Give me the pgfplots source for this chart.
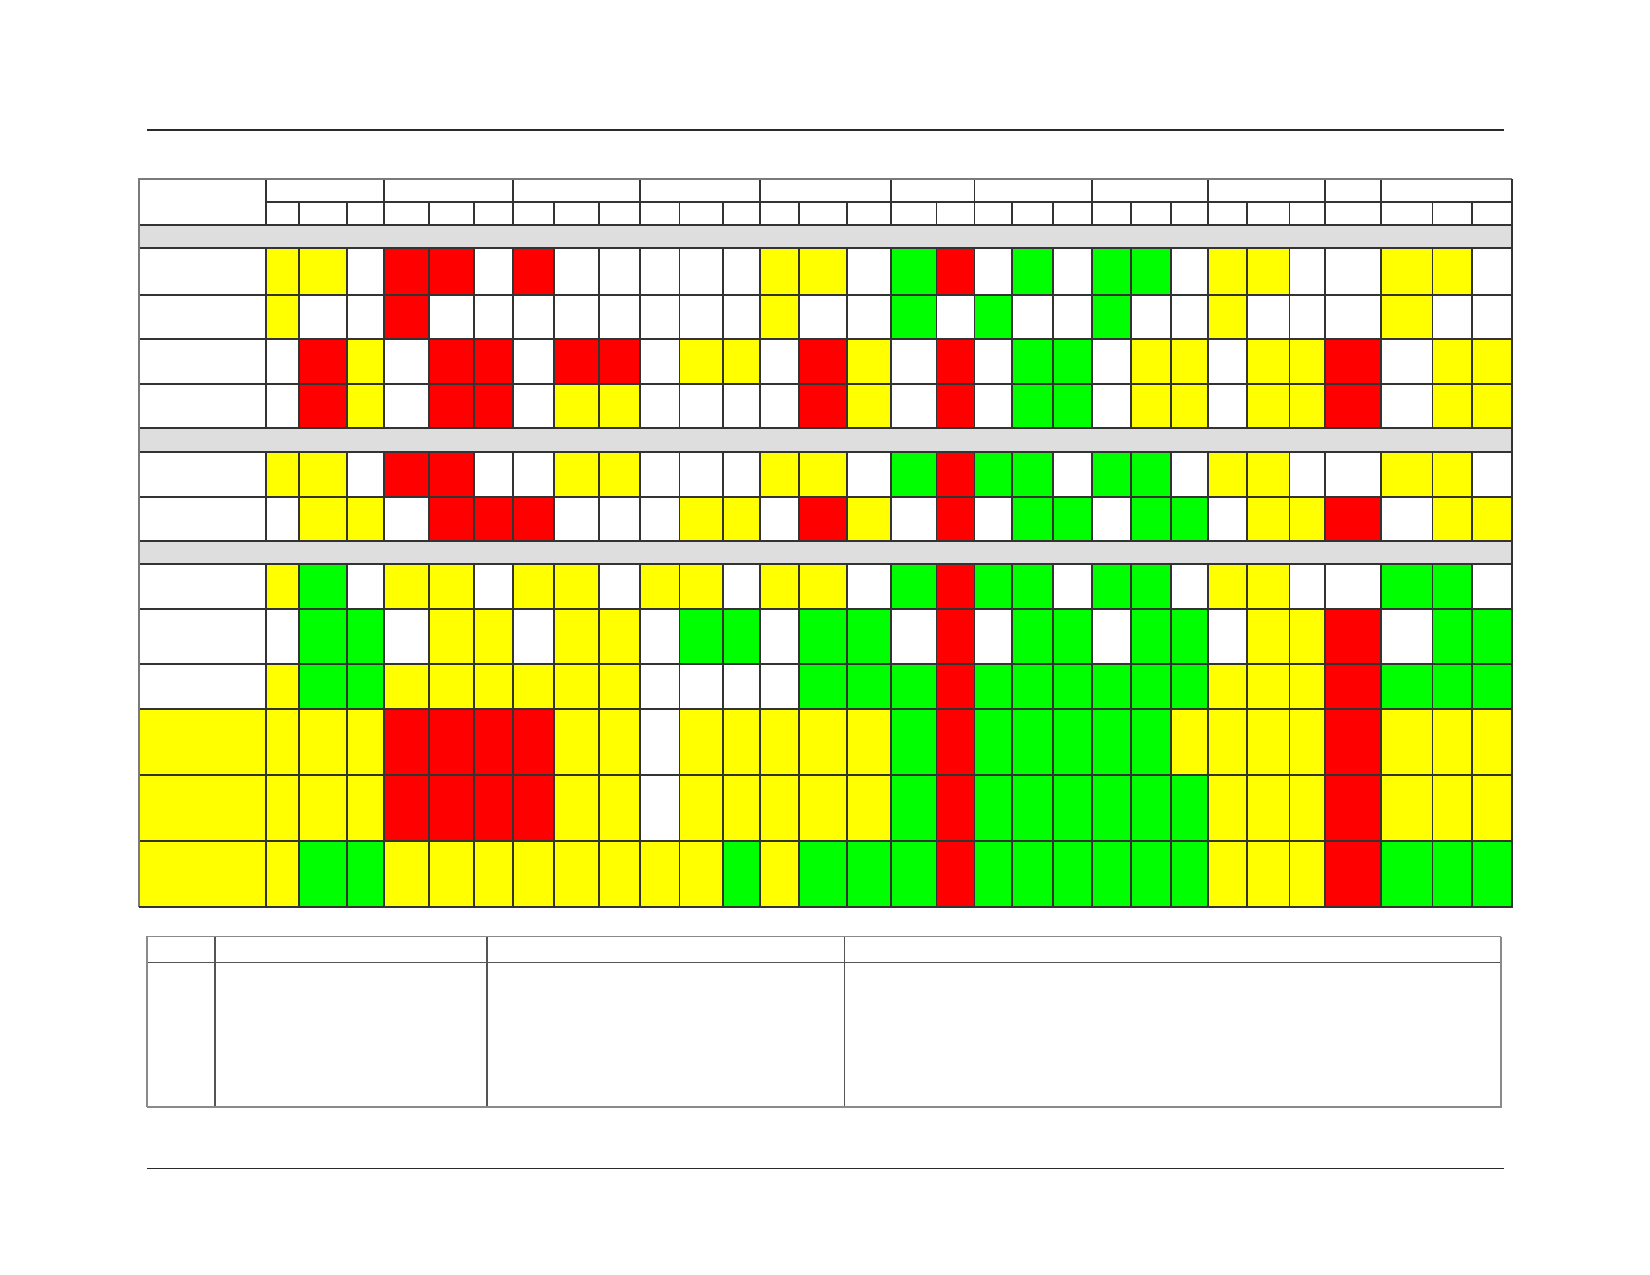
\documentclass[border=0pt]{standalone}
\usepackage{pgfplots}
\pgfplotsset{compat=1.18}
\definecolor{gridc}{HTML}{333333}
\definecolor{outerc}{HTML}{7A7A7A}
\definecolor{lowc}{HTML}{555555}
\definecolor{lowedge}{HTML}{8A8A8A}
\definecolor{rulec}{HTML}{2A2A2A}
\definecolor{bandc}{RGB}{222,222,222}
\begin{document}
\begin{tikzpicture}
\begin{axis}[scale only axis, width=825pt, height=637.5pt,
  xmin=0, xmax=1650, ymin=0, ymax=1275, y dir=reverse, hide axis,
  colormap={cells}{rgb255=(255,255,255) rgb255=(255,255,0) rgb255=(255,0,0) rgb255=(0,255,0) rgb255=(222,222,222)},
  colormap access=direct, unbounded coords=jump]

% page background
\addplot[fill=white, draw=none, mark=none] coordinates {(0,0) (1650,0) (1650,1275) (0,1275)};

% cell colours: 0 white, 1 yellow, 2 red, 3 green, 4 grey (value at top-left corner of each cell)
\addplot[surf, shader=flat corner, mesh/cols=32, mesh/rows=18, point meta=explicit] coordinates {
(139.3,179)[0] (266,179)[0] (299.3,179)[0] (346.7,179)[0] (384,179)[0] (429,179)[0] (473.7,179)[0] (513,179)[0] (554.3,179)[0] (599.3,179)[0] (640,179)[0] (679.5,179)[0] (722.7,179)[0] (760.3,179)[0] (799.2,179)[0] (847,179)[0] (891.2,179)[0] (936.5,179)[0] (974.5,179)[0] (1012.2,179)[0] (1053,179)[0] (1091.7,179)[0] (1131,179)[0] (1170.7,179)[0] (1208.2,179)[0] (1246.7,179)[0] (1289.5,179)[0] (1325.2,179)[0] (1380.7,179)[0] (1432.5,179)[0] (1472,179)[0] (1511.7,179)[0]
(139.3,201.7)[0] (266,201.7)[0] (299.3,201.7)[0] (346.7,201.7)[0] (384,201.7)[0] (429,201.7)[0] (473.7,201.7)[0] (513,201.7)[0] (554.3,201.7)[0] (599.3,201.7)[0] (640,201.7)[0] (679.5,201.7)[0] (722.7,201.7)[0] (760.3,201.7)[0] (799.2,201.7)[0] (847,201.7)[0] (891.2,201.7)[0] (936.5,201.7)[0] (974.5,201.7)[0] (1012.2,201.7)[0] (1053,201.7)[0] (1091.7,201.7)[0] (1131,201.7)[0] (1170.7,201.7)[0] (1208.2,201.7)[0] (1246.7,201.7)[0] (1289.5,201.7)[0] (1325.2,201.7)[0] (1380.7,201.7)[0] (1432.5,201.7)[0] (1472,201.7)[0] (1511.7,201.7)[0]
(139.3,224.7)[4] (266,224.7)[4] (299.3,224.7)[4] (346.7,224.7)[4] (384,224.7)[4] (429,224.7)[4] (473.7,224.7)[4] (513,224.7)[4] (554.3,224.7)[4] (599.3,224.7)[4] (640,224.7)[4] (679.5,224.7)[4] (722.7,224.7)[4] (760.3,224.7)[4] (799.2,224.7)[4] (847,224.7)[4] (891.2,224.7)[4] (936.5,224.7)[4] (974.5,224.7)[4] (1012.2,224.7)[4] (1053,224.7)[4] (1091.7,224.7)[4] (1131,224.7)[4] (1170.7,224.7)[4] (1208.2,224.7)[4] (1246.7,224.7)[4] (1289.5,224.7)[4] (1325.2,224.7)[4] (1380.7,224.7)[4] (1432.5,224.7)[4] (1472,224.7)[4] (1511.7,224.7)[0]
(139.3,248)[0] (266,248)[1] (299.3,248)[1] (346.7,248)[0] (384,248)[2] (429,248)[2] (473.7,248)[0] (513,248)[2] (554.3,248)[0] (599.3,248)[0] (640,248)[0] (679.5,248)[0] (722.7,248)[0] (760.3,248)[1] (799.2,248)[1] (847,248)[0] (891.2,248)[3] (936.5,248)[2] (974.5,248)[0] (1012.2,248)[3] (1053,248)[0] (1091.7,248)[3] (1131,248)[3] (1170.7,248)[0] (1208.2,248)[1] (1246.7,248)[1] (1289.5,248)[0] (1325.2,248)[0] (1380.7,248)[1] (1432.5,248)[1] (1472,248)[0] (1511.7,248)[0]
(139.3,294.7)[0] (266,294.7)[1] (299.3,294.7)[0] (346.7,294.7)[0] (384,294.7)[2] (429,294.7)[0] (473.7,294.7)[0] (513,294.7)[0] (554.3,294.7)[0] (599.3,294.7)[0] (640,294.7)[0] (679.5,294.7)[0] (722.7,294.7)[0] (760.3,294.7)[1] (799.2,294.7)[0] (847,294.7)[0] (891.2,294.7)[3] (936.5,294.7)[0] (974.5,294.7)[3] (1012.2,294.7)[0] (1053,294.7)[0] (1091.7,294.7)[3] (1131,294.7)[0] (1170.7,294.7)[0] (1208.2,294.7)[1] (1246.7,294.7)[0] (1289.5,294.7)[0] (1325.2,294.7)[0] (1380.7,294.7)[1] (1432.5,294.7)[0] (1472,294.7)[0] (1511.7,294.7)[0]
(139.3,339.3)[0] (266,339.3)[0] (299.3,339.3)[2] (346.7,339.3)[1] (384,339.3)[0] (429,339.3)[2] (473.7,339.3)[2] (513,339.3)[0] (554.3,339.3)[2] (599.3,339.3)[2] (640,339.3)[0] (679.5,339.3)[1] (722.7,339.3)[1] (760.3,339.3)[0] (799.2,339.3)[2] (847,339.3)[1] (891.2,339.3)[0] (936.5,339.3)[2] (974.5,339.3)[0] (1012.2,339.3)[3] (1053,339.3)[3] (1091.7,339.3)[0] (1131,339.3)[1] (1170.7,339.3)[1] (1208.2,339.3)[0] (1246.7,339.3)[1] (1289.5,339.3)[1] (1325.2,339.3)[2] (1380.7,339.3)[0] (1432.5,339.3)[1] (1472,339.3)[1] (1511.7,339.3)[0]
(139.3,384)[0] (266,384)[0] (299.3,384)[2] (346.7,384)[1] (384,384)[0] (429,384)[2] (473.7,384)[2] (513,384)[0] (554.3,384)[1] (599.3,384)[1] (640,384)[0] (679.5,384)[0] (722.7,384)[0] (760.3,384)[0] (799.2,384)[2] (847,384)[1] (891.2,384)[0] (936.5,384)[2] (974.5,384)[0] (1012.2,384)[3] (1053,384)[3] (1091.7,384)[0] (1131,384)[1] (1170.7,384)[1] (1208.2,384)[0] (1246.7,384)[1] (1289.5,384)[1] (1325.2,384)[2] (1380.7,384)[0] (1432.5,384)[1] (1472,384)[1] (1511.7,384)[0]
(139.3,428)[4] (266,428)[4] (299.3,428)[4] (346.7,428)[4] (384,428)[4] (429,428)[4] (473.7,428)[4] (513,428)[4] (554.3,428)[4] (599.3,428)[4] (640,428)[4] (679.5,428)[4] (722.7,428)[4] (760.3,428)[4] (799.2,428)[4] (847,428)[4] (891.2,428)[4] (936.5,428)[4] (974.5,428)[4] (1012.2,428)[4] (1053,428)[4] (1091.7,428)[4] (1131,428)[4] (1170.7,428)[4] (1208.2,428)[4] (1246.7,428)[4] (1289.5,428)[4] (1325.2,428)[4] (1380.7,428)[4] (1432.5,428)[4] (1472,428)[4] (1511.7,428)[0]
(139.3,451.7)[0] (266,451.7)[1] (299.3,451.7)[1] (346.7,451.7)[0] (384,451.7)[2] (429,451.7)[2] (473.7,451.7)[0] (513,451.7)[0] (554.3,451.7)[1] (599.3,451.7)[1] (640,451.7)[0] (679.5,451.7)[0] (722.7,451.7)[0] (760.3,451.7)[1] (799.2,451.7)[1] (847,451.7)[0] (891.2,451.7)[3] (936.5,451.7)[2] (974.5,451.7)[3] (1012.2,451.7)[3] (1053,451.7)[0] (1091.7,451.7)[3] (1131,451.7)[3] (1170.7,451.7)[0] (1208.2,451.7)[1] (1246.7,451.7)[1] (1289.5,451.7)[0] (1325.2,451.7)[0] (1380.7,451.7)[1] (1432.5,451.7)[1] (1472,451.7)[0] (1511.7,451.7)[0]
(139.3,496.7)[0] (266,496.7)[0] (299.3,496.7)[1] (346.7,496.7)[1] (384,496.7)[0] (429,496.7)[2] (473.7,496.7)[2] (513,496.7)[2] (554.3,496.7)[0] (599.3,496.7)[0] (640,496.7)[0] (679.5,496.7)[1] (722.7,496.7)[1] (760.3,496.7)[0] (799.2,496.7)[2] (847,496.7)[1] (891.2,496.7)[0] (936.5,496.7)[2] (974.5,496.7)[0] (1012.2,496.7)[3] (1053,496.7)[3] (1091.7,496.7)[0] (1131,496.7)[3] (1170.7,496.7)[3] (1208.2,496.7)[0] (1246.7,496.7)[1] (1289.5,496.7)[1] (1325.2,496.7)[2] (1380.7,496.7)[0] (1432.5,496.7)[1] (1472,496.7)[1] (1511.7,496.7)[0]
(139.3,541)[4] (266,541)[4] (299.3,541)[4] (346.7,541)[4] (384,541)[4] (429,541)[4] (473.7,541)[4] (513,541)[4] (554.3,541)[4] (599.3,541)[4] (640,541)[4] (679.5,541)[4] (722.7,541)[4] (760.3,541)[4] (799.2,541)[4] (847,541)[4] (891.2,541)[4] (936.5,541)[4] (974.5,541)[4] (1012.2,541)[4] (1053,541)[4] (1091.7,541)[4] (1131,541)[4] (1170.7,541)[4] (1208.2,541)[4] (1246.7,541)[4] (1289.5,541)[4] (1325.2,541)[4] (1380.7,541)[4] (1432.5,541)[4] (1472,541)[4] (1511.7,541)[0]
(139.3,564.3)[0] (266,564.3)[1] (299.3,564.3)[3] (346.7,564.3)[0] (384,564.3)[1] (429,564.3)[1] (473.7,564.3)[0] (513,564.3)[1] (554.3,564.3)[1] (599.3,564.3)[0] (640,564.3)[1] (679.5,564.3)[1] (722.7,564.3)[0] (760.3,564.3)[1] (799.2,564.3)[1] (847,564.3)[0] (891.2,564.3)[3] (936.5,564.3)[2] (974.5,564.3)[3] (1012.2,564.3)[3] (1053,564.3)[0] (1091.7,564.3)[3] (1131,564.3)[3] (1170.7,564.3)[0] (1208.2,564.3)[1] (1246.7,564.3)[1] (1289.5,564.3)[0] (1325.2,564.3)[0] (1380.7,564.3)[3] (1432.5,564.3)[3] (1472,564.3)[0] (1511.7,564.3)[0]
(139.3,609)[0] (266,609)[0] (299.3,609)[3] (346.7,609)[3] (384,609)[0] (429,609)[1] (473.7,609)[1] (513,609)[0] (554.3,609)[1] (599.3,609)[1] (640,609)[0] (679.5,609)[3] (722.7,609)[3] (760.3,609)[0] (799.2,609)[3] (847,609)[3] (891.2,609)[0] (936.5,609)[2] (974.5,609)[0] (1012.2,609)[3] (1053,609)[3] (1091.7,609)[0] (1131,609)[3] (1170.7,609)[3] (1208.2,609)[0] (1246.7,609)[1] (1289.5,609)[1] (1325.2,609)[2] (1380.7,609)[0] (1432.5,609)[3] (1472,609)[3] (1511.7,609)[0]
(139.3,664)[0] (266,664)[1] (299.3,664)[3] (346.7,664)[3] (384,664)[1] (429,664)[1] (473.7,664)[1] (513,664)[1] (554.3,664)[1] (599.3,664)[1] (640,664)[0] (679.5,664)[0] (722.7,664)[0] (760.3,664)[0] (799.2,664)[3] (847,664)[3] (891.2,664)[3] (936.5,664)[2] (974.5,664)[3] (1012.2,664)[3] (1053,664)[3] (1091.7,664)[3] (1131,664)[3] (1170.7,664)[3] (1208.2,664)[1] (1246.7,664)[1] (1289.5,664)[1] (1325.2,664)[2] (1380.7,664)[3] (1432.5,664)[3] (1472,664)[3] (1511.7,664)[0]
(139.3,708.7)[1] (266,708.7)[1] (299.3,708.7)[1] (346.7,708.7)[1] (384,708.7)[2] (429,708.7)[2] (473.7,708.7)[2] (513,708.7)[2] (554.3,708.7)[1] (599.3,708.7)[1] (640,708.7)[0] (679.5,708.7)[1] (722.7,708.7)[1] (760.3,708.7)[1] (799.2,708.7)[1] (847,708.7)[1] (891.2,708.7)[3] (936.5,708.7)[2] (974.5,708.7)[3] (1012.2,708.7)[3] (1053,708.7)[3] (1091.7,708.7)[3] (1131,708.7)[3] (1170.7,708.7)[1] (1208.2,708.7)[1] (1246.7,708.7)[1] (1289.5,708.7)[1] (1325.2,708.7)[2] (1380.7,708.7)[1] (1432.5,708.7)[1] (1472,708.7)[1] (1511.7,708.7)[0]
(139.3,774.7)[1] (266,774.7)[1] (299.3,774.7)[1] (346.7,774.7)[1] (384,774.7)[2] (429,774.7)[2] (473.7,774.7)[2] (513,774.7)[2] (554.3,774.7)[1] (599.3,774.7)[1] (640,774.7)[0] (679.5,774.7)[1] (722.7,774.7)[1] (760.3,774.7)[1] (799.2,774.7)[1] (847,774.7)[1] (891.2,774.7)[3] (936.5,774.7)[2] (974.5,774.7)[3] (1012.2,774.7)[3] (1053,774.7)[3] (1091.7,774.7)[3] (1131,774.7)[3] (1170.7,774.7)[3] (1208.2,774.7)[1] (1246.7,774.7)[1] (1289.5,774.7)[1] (1325.2,774.7)[2] (1380.7,774.7)[1] (1432.5,774.7)[1] (1472,774.7)[1] (1511.7,774.7)[0]
(139.3,841)[1] (266,841)[1] (299.3,841)[3] (346.7,841)[3] (384,841)[1] (429,841)[1] (473.7,841)[1] (513,841)[1] (554.3,841)[1] (599.3,841)[1] (640,841)[1] (679.5,841)[1] (722.7,841)[3] (760.3,841)[1] (799.2,841)[3] (847,841)[3] (891.2,841)[3] (936.5,841)[2] (974.5,841)[3] (1012.2,841)[3] (1053,841)[3] (1091.7,841)[3] (1131,841)[3] (1170.7,841)[3] (1208.2,841)[1] (1246.7,841)[1] (1289.5,841)[1] (1325.2,841)[2] (1380.7,841)[3] (1432.5,841)[3] (1472,841)[3] (1511.7,841)[0]
(139.3,907.3)[0] (266,907.3)[0] (299.3,907.3)[0] (346.7,907.3)[0] (384,907.3)[0] (429,907.3)[0] (473.7,907.3)[0] (513,907.3)[0] (554.3,907.3)[0] (599.3,907.3)[0] (640,907.3)[0] (679.5,907.3)[0] (722.7,907.3)[0] (760.3,907.3)[0] (799.2,907.3)[0] (847,907.3)[0] (891.2,907.3)[0] (936.5,907.3)[0] (974.5,907.3)[0] (1012.2,907.3)[0] (1053,907.3)[0] (1091.7,907.3)[0] (1131,907.3)[0] (1170.7,907.3)[0] (1208.2,907.3)[0] (1246.7,907.3)[0] (1289.5,907.3)[0] (1325.2,907.3)[0] (1380.7,907.3)[0] (1432.5,907.3)[0] (1472,907.3)[0] (1511.7,907.3)[0]
};

% vertical grid lines
\addplot[draw=gridc, line width=0.85pt, mark=none] coordinates {
(266,179) (266,907.3) (nan,nan)
(384,179) (384,907.3) (nan,nan)
(513,179) (513,907.3) (nan,nan)
(640,179) (640,907.3) (nan,nan)
(760.3,179) (760.3,907.3) (nan,nan)
(891.2,179) (891.2,907.3) (nan,nan)
(974.5,179) (974.5,907.3) (nan,nan)
(1091.7,179) (1091.7,907.3) (nan,nan)
(1208.2,179) (1208.2,907.3) (nan,nan)
(1325.2,179) (1325.2,907.3) (nan,nan)
(1380.7,179) (1380.7,907.3) (nan,nan)
(299.3,201.7) (299.3,907.3) (nan,nan)
(346.7,201.7) (346.7,907.3) (nan,nan)
(429,201.7) (429,907.3) (nan,nan)
(473.7,201.7) (473.7,907.3) (nan,nan)
(554.3,201.7) (554.3,907.3) (nan,nan)
(599.3,201.7) (599.3,907.3) (nan,nan)
(679.5,201.7) (679.5,907.3) (nan,nan)
(722.7,201.7) (722.7,907.3) (nan,nan)
(799.2,201.7) (799.2,907.3) (nan,nan)
(847,201.7) (847,907.3) (nan,nan)
(936.5,201.7) (936.5,907.3) (nan,nan)
(1012.2,201.7) (1012.2,907.3) (nan,nan)
(1053,201.7) (1053,907.3) (nan,nan)
(1131,201.7) (1131,907.3) (nan,nan)
(1170.7,201.7) (1170.7,907.3) (nan,nan)
(1246.7,201.7) (1246.7,907.3) (nan,nan)
(1289.5,201.7) (1289.5,907.3) (nan,nan)
(1432.5,201.7) (1432.5,907.3) (nan,nan)
(1472,201.7) (1472,907.3)
};

% grey section bands
\addplot[fill=bandc, draw=none, mark=none] coordinates {(139.3,224.7) (1511.7,224.7) (1511.7,248) (139.3,248)};
\addplot[fill=bandc, draw=none, mark=none] coordinates {(139.3,428) (1511.7,428) (1511.7,451.7) (139.3,451.7)};
\addplot[fill=bandc, draw=none, mark=none] coordinates {(139.3,541) (1511.7,541) (1511.7,564.3) (139.3,564.3)};

% horizontal grid lines
\addplot[draw=gridc, line width=0.85pt, mark=none] coordinates {
(266,201.7) (1511.7,201.7) (nan,nan)
(139.3,224.7) (1511.7,224.7) (nan,nan)
(139.3,248) (1511.7,248) (nan,nan)
(139.3,294.7) (1511.7,294.7) (nan,nan)
(139.3,339.3) (1511.7,339.3) (nan,nan)
(139.3,384) (1511.7,384) (nan,nan)
(139.3,428) (1511.7,428) (nan,nan)
(139.3,451.7) (1511.7,451.7) (nan,nan)
(139.3,496.7) (1511.7,496.7) (nan,nan)
(139.3,541) (1511.7,541) (nan,nan)
(139.3,564.3) (1511.7,564.3) (nan,nan)
(139.3,609) (1511.7,609) (nan,nan)
(139.3,664) (1511.7,664) (nan,nan)
(139.3,708.7) (1511.7,708.7) (nan,nan)
(139.3,774.7) (1511.7,774.7) (nan,nan)
(139.3,841) (1511.7,841) (nan,nan)
(139.3,907.3) (1511.7,907.3)
};

% outer frame of the main table
\addplot[draw=outerc, line width=0.85pt, mark=none] coordinates {(139.3,907.3) (139.3,179) (1511.7,179)};
\addplot[draw=gridc, line width=0.85pt, mark=none] coordinates {(1511.7,179) (1511.7,907.3) (139.3,907.3)};

% lower (empty) table
\addplot[draw=lowc, line width=0.75pt, mark=none] coordinates {
(147,962.3) (1501,962.3) (nan,nan)
(214.9,936.7) (214.9,1106.7) (nan,nan)
(487,936.7) (487,1106.7) (nan,nan)
(844.3,936.7) (844.3,1106.7)
};
\addplot[draw=lowedge, line width=0.75pt, mark=none] coordinates {(147,1106.7) (147,936.7) (1501,936.7)};
\addplot[draw=lowedge, line width=1.2pt, mark=none] coordinates {(1501,936.7) (1501,1106.7) (147,1106.7)};

% header and footer rules
\addplot[draw=rulec, line width=0.8pt, mark=none] coordinates {(146.7,130) (1504,130) (nan,nan) (147,1168.3) (1504,1168.3)};

\end{axis}
\end{tikzpicture}
\end{document}
